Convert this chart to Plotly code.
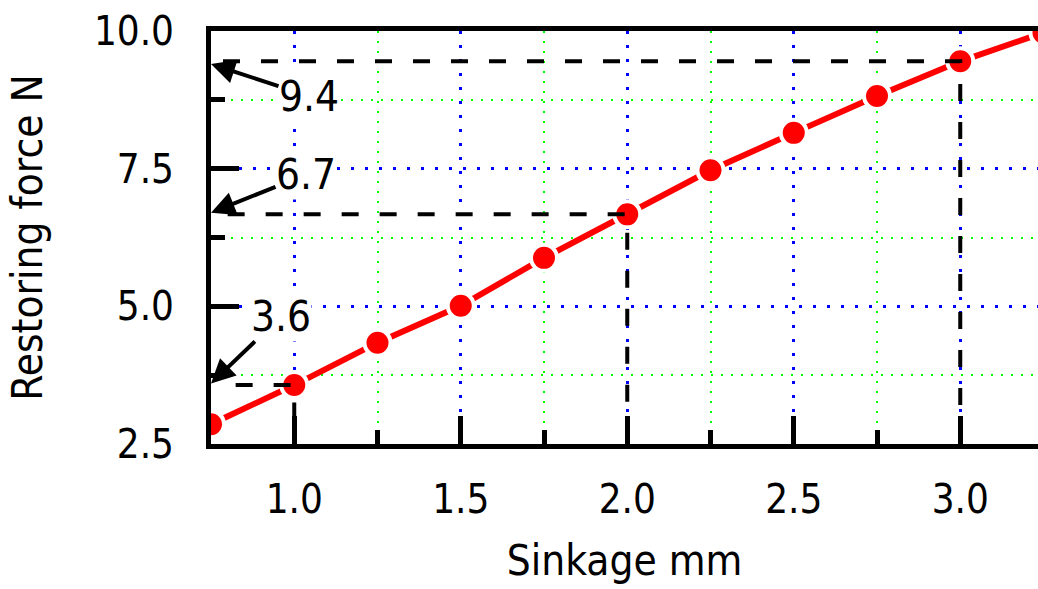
import plotly.graph_objects as go

# ---- data ----
sinkage = [0.75, 1.0, 1.25, 1.5, 1.75, 2.0, 2.25, 2.5, 2.75, 3.0, 3.25]
force = [2.86, 3.57, 4.34, 5.01, 5.88, 6.67, 7.47, 8.15, 8.82, 9.45, 9.97]

guide_x = [1.0, 2.0, 3.0]
guide_labels = ["3.6", "6.7", "9.4"]
guide_values = [3.6, 6.7, 9.4]

x_range = [0.75, 3.2335]
y_range = [2.5, 10.0]

FONT = "DejaVu Sans Condensed, Liberation Sans, sans-serif"

fig = go.Figure()

fig.add_trace(go.Scatter(
    x=sinkage, y=force, mode="lines+markers",
    line=dict(color="#ff0000", width=6),
    marker=dict(size=26, color="#ff0000", line=dict(color="white", width=4)),
    showlegend=False, hoverinfo="skip",
))

# dashed guide lines from y axis to point, then down to x axis
guide_starts = [0.824, 0.80, 0.786]
for gx, x0 in zip(guide_x, guide_starts):
    gy = force[sinkage.index(gx)]
    fig.add_trace(go.Scatter(
        x=[x0, gx, gx], y=[gy, gy, y_range[0]], mode="lines",
        line=dict(color="black", width=4, dash="17px,21px"),
        showlegend=False, hoverinfo="skip",
    ))

# label offsets (pixels) for the annotation text relative to arrow tip
offsets = [(70, -67), (95, -38), (98, 32)]
for lab, val, (ax, ay) in zip(guide_labels, guide_values, offsets):
    fig.add_annotation(
        x=x_range[0], y=val, xref="x", yref="y", text=lab,
        showarrow=True, arrowhead=2, arrowsize=1.2, arrowwidth=4,
        arrowcolor="black", ax=ax, ay=ay,
        font=dict(family=FONT, size=42, color="black"),
        bgcolor="white", borderpad=0,
    )

axis_common = dict(
    ticks="inside", ticklen=28, tickwidth=5, tickcolor="black",
    showline=True, linewidth=5, linecolor="black",
    showgrid=True, gridcolor="#0000ff", gridwidth=2.5, griddash="3px,11px",
    zeroline=False, tickformat=".1f",
    tickfont=dict(family=FONT, size=40, color="black"),
)

fig.update_xaxes(
    range=x_range, tick0=0, dtick=0.5, mirror=True,
    minor=dict(tick0=0, dtick=0.25, ticks="inside", ticklen=14, tickwidth=5,
               tickcolor="black", showgrid=True, gridcolor="#00ff00",
               gridwidth=1.5, griddash="1.5px,8.5px"),
    title=dict(text="Sinkage mm", font=dict(family=FONT, size=42, color="black"), standoff=26),
    ticklabelstandoff=16,
    **axis_common,
)
fig.update_yaxes(
    range=y_range, tick0=0, dtick=2.5,
    minor=dict(tick0=0, dtick=1.25, ticks="inside", ticklen=14, tickwidth=5,
               tickcolor="black", showgrid=True, gridcolor="#00ff00",
               gridwidth=1.5, griddash="1.5px,8.5px"),
    title=dict(text="Restoring force N", font=dict(family=FONT, size=42, color="black"), standoff=40),
    ticklabelstandoff=24,
    **axis_common,
)

fig.update_layout(
    width=1038, height=589,
    margin=dict(l=211, r=0, t=31, b=145, pad=0),
    plot_bgcolor="white", paper_bgcolor="white",
    font=dict(family=FONT, color="black"),
)

fig.write_html("out.html")
